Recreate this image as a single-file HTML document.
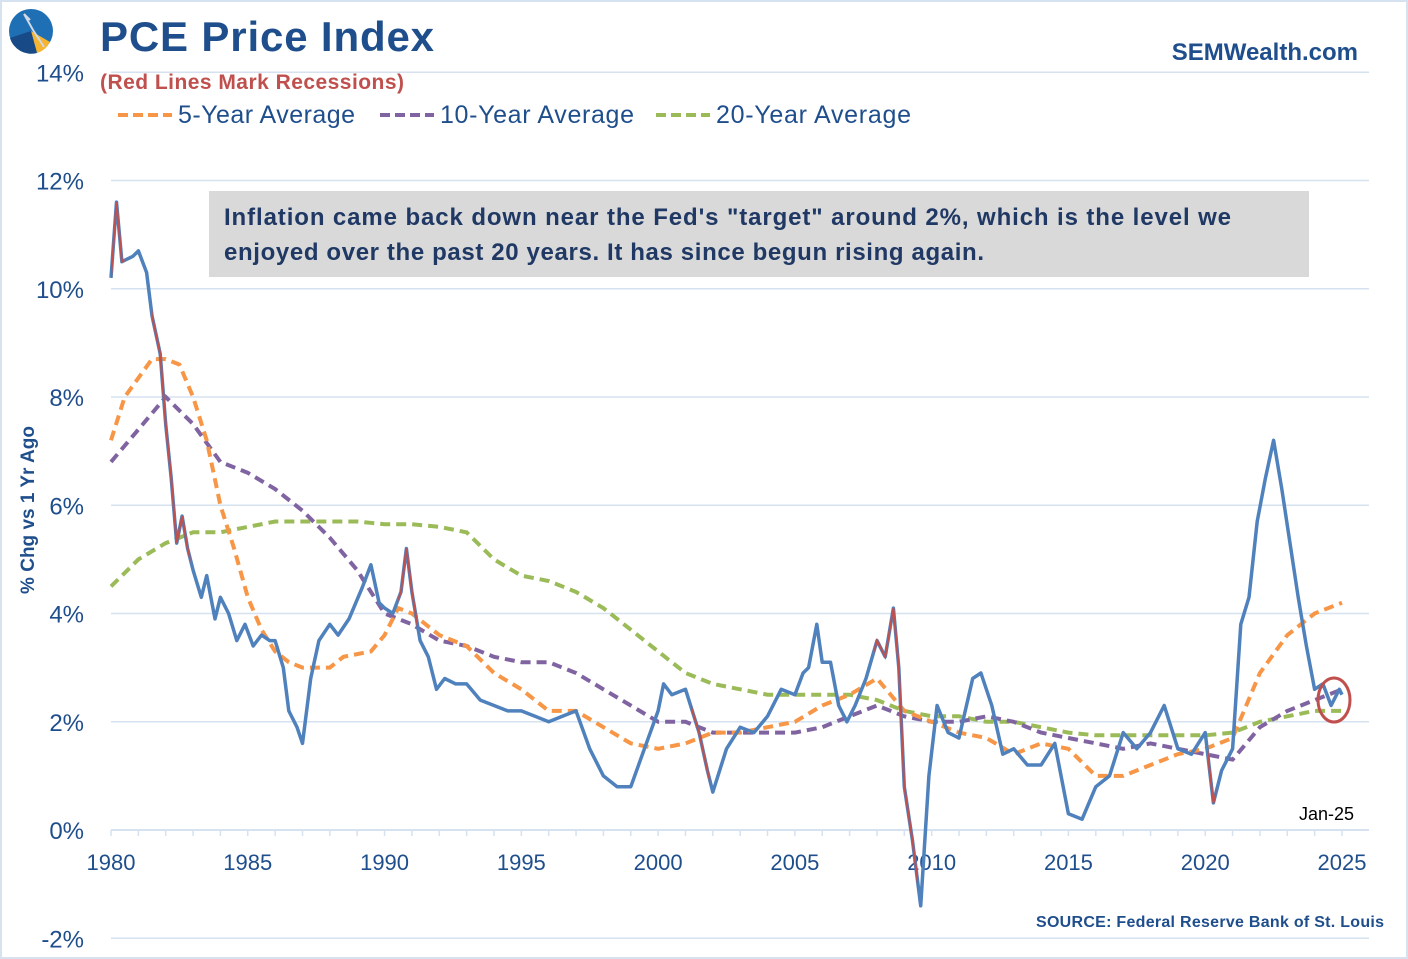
<!DOCTYPE html>
<html><head><meta charset="utf-8"><style>
body{margin:0;background:#fff}
svg{display:block;font-family:"Liberation Sans",sans-serif}
</style></head><body>
<svg width="1408" height="959" viewBox="0 0 1408 959">
<rect x="1" y="1" width="1406" height="957" fill="#fff" stroke="#d6e2f0" stroke-width="2"/>
<g id="grid"></g>
<g id="axes"></g>
<g id="series"></g>
<g>
<circle cx="31" cy="31" r="22" fill="#1f6fb5"/>
<path d="M31 31 L37 53 A22 22 0 0 0 50 42 Z" fill="#f7b431"/>
<path d="M31 31 L37 53 A22 22 0 0 1 10 38 Z" fill="#174a86"/>
<path d="M24 14 L33 30 L44 47 M24 14 L30 20" stroke="#d0d8e4" stroke-width="2" fill="none"/>
</g>
<text x="100" y="51" font-size="42" font-weight="bold" fill="#1f4e8c" textLength="334">PCE Price Index</text>
<text x="100" y="89" font-size="21" font-weight="bold" fill="#c0504d" textLength="304">(Red Lines Mark Recessions)</text>
<text x="1358" y="60" font-size="24" font-weight="bold" fill="#1f4e8c" text-anchor="end">SEMWealth.com</text>
<g>
<g><line x1="118" y1="115" x2="172" y2="115" stroke="#f79646" stroke-width="4" stroke-dasharray="10,5"/><text x="178" y="123" font-size="25" fill="#1f4e8c" textLength="177">5-Year Average</text></g>
<g><line x1="380" y1="115" x2="434" y2="115" stroke="#8064a2" stroke-width="4" stroke-dasharray="10,5"/><text x="440" y="123" font-size="25" fill="#1f4e8c" textLength="194">10-Year Average</text></g>
<g><line x1="656" y1="115" x2="710" y2="115" stroke="#9bbb59" stroke-width="4" stroke-dasharray="10,5"/><text x="716" y="123" font-size="25" fill="#1f4e8c" textLength="195">20-Year Average</text></g>
</g>
<g>
<rect x="209" y="191" width="1100" height="86" fill="#d9d9d9"/>
<text x="224" y="225" font-size="24" font-weight="bold" fill="#1f3864" textLength="1007">Inflation came back down near the Fed's "target" around 2%, which is the level we</text>
<text x="224" y="260" font-size="24" font-weight="bold" fill="#1f3864" textLength="760">enjoyed over the past 20 years. It has since begun rising again.</text>
</g>
<text transform="translate(34,510) rotate(-90)" font-size="19" font-weight="bold" fill="#1f4e8c" text-anchor="middle">% Chg vs 1 Yr Ago</text>
<text x="1354" y="820" font-size="18" fill="#000" text-anchor="end">Jan-25</text>
<text x="1036" y="927" font-size="16" font-weight="bold" fill="#1f4e8c" textLength="348">SOURCE:  Federal Reserve Bank of St. Louis</text>
<ellipse cx="1334" cy="700" rx="16" ry="22" fill="none" stroke="#c0504d" stroke-width="3"/>
</svg>
<script>
const yTicks=[-2,0,2,4,6,8,10,12,14];
const xTickYears=[1980,1985,1990,1995,2000,2005,2010,2015,2020,2025];
const pceYears=[1980,1980.2,1980.4,1980.8,1981,1981.3,1981.5,1981.8,1982,1982.2,1982.4,1982.6,1982.8,1983,1983.3,1983.5,1983.8,1984,1984.3,1984.6,1984.9,1985.2,1985.5,1985.8,1986,1986.3,1986.5,1986.8,1987,1987.3,1987.6,1988,1988.3,1988.7,1989.2,1989.5,1989.8,1990,1990.3,1990.6,1990.8,1991,1991.3,1991.6,1991.9,1992.2,1992.6,1993,1993.5,1994,1994.5,1995,1995.5,1996,1996.5,1997,1997.5,1998,1998.5,1999,1999.5,2000,2000.2,2000.5,2001,2001.5,2001.8,2002,2002.5,2003,2003.5,2004,2004.5,2005,2005.3,2005.5,2005.8,2006,2006.3,2006.6,2006.9,2007.2,2007.6,2008,2008.3,2008.6,2008.8,2009,2009.3,2009.6,2009.9,2010.2,2010.6,2011,2011.5,2011.8,2012.2,2012.6,2013,2013.5,2014,2014.5,2015,2015.5,2016,2016.5,2017,2017.5,2018,2018.5,2019,2019.5,2020,2020.3,2020.6,2021,2021.3,2021.6,2021.9,2022.2,2022.5,2022.8,2023.1,2023.4,2023.7,2024,2024.3,2024.6,2024.9,2025];
const pceValues=[10.2,11.6,10.5,10.6,10.7,10.3,9.5,8.8,7.5,6.5,5.3,5.8,5.2,4.8,4.3,4.7,3.9,4.3,4.0,3.5,3.8,3.4,3.6,3.5,3.5,3.0,2.2,1.9,1.6,2.8,3.5,3.8,3.6,3.9,4.5,4.9,4.2,4.1,4.0,4.4,5.2,4.4,3.5,3.2,2.6,2.8,2.7,2.7,2.4,2.3,2.2,2.2,2.1,2.0,2.1,2.2,1.5,1.0,0.8,0.8,1.5,2.2,2.7,2.5,2.6,1.8,1.1,0.7,1.5,1.9,1.8,2.1,2.6,2.5,2.9,3.0,3.8,3.1,3.1,2.3,2.0,2.3,2.8,3.5,3.2,4.1,3.0,0.8,-0.2,-1.4,1.0,2.3,1.8,1.7,2.8,2.9,2.3,1.4,1.5,1.2,1.2,1.6,0.3,0.2,0.8,1.0,1.8,1.5,1.8,2.3,1.5,1.4,1.8,0.5,1.1,1.5,3.8,4.3,5.7,6.5,7.2,6.3,5.3,4.3,3.4,2.6,2.7,2.3,2.6,2.5];
const avgYears5=[1980,1980.5,1981.5,1982,1982.5,1983,1983.5,1984,1984.5,1985,1985.5,1986,1986.5,1987,1988,1988.5,1989.5,1990,1990.5,1991,1992,1993,1994,1995,1996,1997,1998,1999,2000,2001,2002,2003,2004,2005,2006,2007,2008,2009,2010,2011,2012,2013,2014,2015,2016,2017,2018,2019,2020,2021,2022,2023,2024,2025];
const avg5Values=[7.2,8.0,8.7,8.7,8.6,8.0,7.2,6.0,5.2,4.3,3.7,3.3,3.1,3.0,3.0,3.2,3.3,3.6,4.1,4.0,3.6,3.4,2.9,2.6,2.2,2.2,1.9,1.6,1.5,1.6,1.8,1.8,1.9,2.0,2.3,2.5,2.8,2.2,2.0,1.8,1.7,1.4,1.6,1.5,1.0,1.0,1.2,1.4,1.5,1.7,2.9,3.6,4.0,4.2];
const avgYears=[1980,1981,1982,1983,1984,1985,1986,1987,1988,1989,1990,1991,1992,1993,1994,1995,1996,1997,1998,1999,2000,2001,2002,2003,2004,2005,2006,2007,2008,2009,2010,2011,2012,2013,2014,2015,2016,2017,2018,2019,2020,2021,2022,2023,2024,2025];
const avg10Values=[6.8,7.4,8.0,7.5,6.8,6.6,6.3,5.9,5.4,4.8,4.0,3.8,3.5,3.4,3.2,3.1,3.1,2.9,2.6,2.3,2.0,2.0,1.8,1.8,1.8,1.8,1.9,2.1,2.3,2.1,2.0,2.0,2.1,2.0,1.8,1.7,1.6,1.5,1.6,1.5,1.4,1.3,1.9,2.2,2.4,2.6];
const avg20Values=[4.5,5.0,5.3,5.5,5.5,5.6,5.7,5.7,5.7,5.7,5.65,5.65,5.6,5.5,5.0,4.7,4.6,4.4,4.1,3.7,3.3,2.9,2.7,2.6,2.5,2.5,2.5,2.5,2.4,2.2,2.1,2.1,2.0,2.0,1.9,1.8,1.75,1.75,1.75,1.75,1.75,1.8,2.0,2.1,2.2,2.2];
const recessionStarts=[1980.0,1981.5,1990.5,2001.2,2007.9,2020.1];
const recessionEnds=[1980.5,1982.9,1991.2,2001.9,2009.5,2020.4];

const NS='http://www.w3.org/2000/svg';
const X=t=>111+(t-1980)*1231/45;
const Y=v=>830-v*54.125;
function mk(tag,attrs,parent){const e=document.createElementNS(NS,tag);for(const k in attrs)e.setAttribute(k,attrs[k]);parent.appendChild(e);return e;}
const grid=document.getElementById('grid'),axes=document.getElementById('axes'),series=document.getElementById('series');
yTicks.forEach(v=>{
  if(v!==0){const l=mk('line',{x1:111,x2:1369,y1:Y(v),y2:Y(v),stroke:'#d6e2f0','stroke-width':1.5},grid);
  
  }
  const t=mk('text',{x:84,y:Y(v)+9,'font-size':24,fill:'#1f4e8c','text-anchor':'end'},axes);
  t.textContent=v+'%';
  
  
});
const ax=mk('line',{x1:111,x2:1369,y1:Y(0),y2:Y(0),stroke:'#d6e2f0','stroke-width':2},axes);


for(let yr=1980;yr<=2025;yr++){const tk=mk('line',{x1:X(yr),x2:X(yr),y1:Y(0),y2:Y(0)+6,stroke:'#d6e2f0','stroke-width':1.5},axes);

}
xTickYears.forEach(yr=>{const t=mk('text',{x:X(yr),y:870,'font-size':22,fill:'#1f4e8c','text-anchor':'middle'},axes);
t.textContent=yr;

});
function path(xs,vs){return xs.map((t,i)=>(i?'L':'M')+X(t).toFixed(1)+' '+Y(vs[i]).toFixed(1)).join(' ');}
[[avgYears,avg20Values,'#9bbb59','avg-20yr-line'],[avgYears,avg10Values,'#8064a2','avg-10yr-line'],[avgYears5,avg5Values,'#f79646','avg-5yr-line']].forEach(s=>{
  const p=mk('path',{d:path(s[0],s[1]),fill:'none',stroke:s[2],'stroke-width':4,'stroke-dasharray':'10,6'},series);
  
  
});
const pl=mk('path',{d:path(pceYears,pceValues),fill:'none',stroke:'#4f81bd','stroke-width':3.5,'stroke-linejoin':'round'},series);


const defs=mk('defs',{},series);
recessionStarts.forEach((s,i)=>{
  const cp=mk('clipPath',{id:'rc'+i},defs);
  mk('rect',{x:X(s),y:0,width:X(recessionEnds[i])-X(s),height:959},cp);
  const r=mk('path',{d:path(pceYears,pceValues),fill:'none',stroke:'#c0504d','stroke-width':2,'clip-path':'url(#rc'+i+')'},series);
  
  
});
</script>
</body></html>
